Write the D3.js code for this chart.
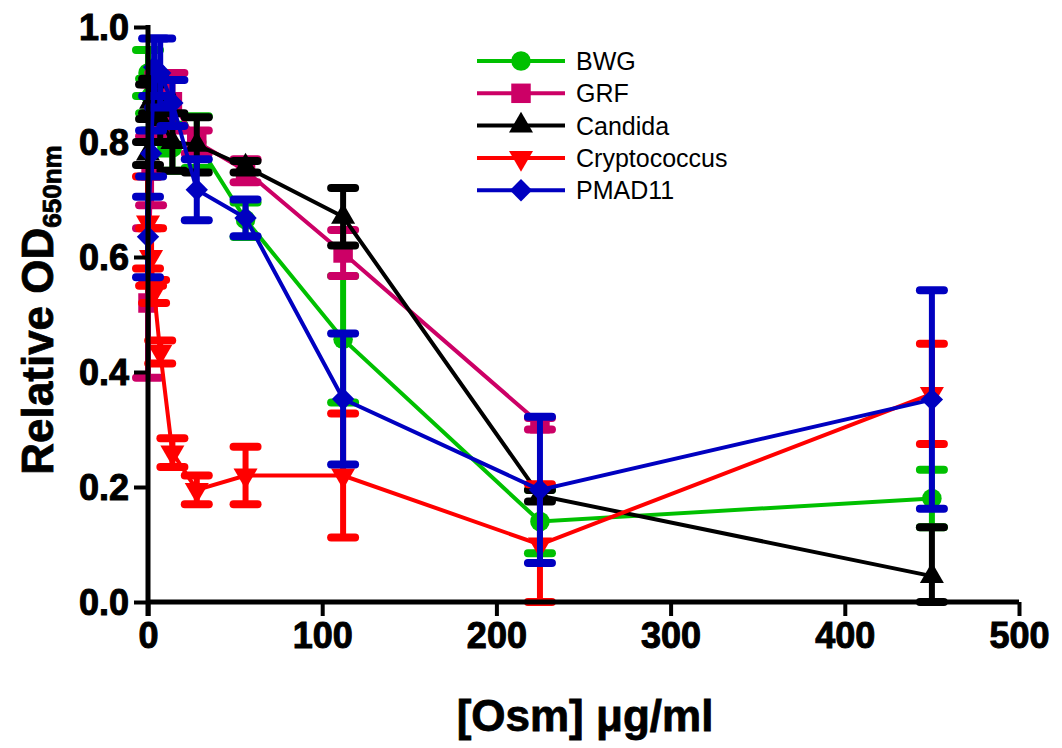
<!DOCTYPE html>
<html>
<head>
<meta charset="utf-8">
<script src="https://cdn.jsdelivr.net/npm/d3@7"></script>
<style>
body { margin: 0; background: #fff; }
text { font-family: "Liberation Sans", Arial, sans-serif; }
</style>
</head>
<body>
<svg width="1062" height="748"></svg>
<script>
// concentrations (ug/ml)
var conc = [0, 1.76, 3.5, 7, 14, 28, 56, 112, 225, 450];

var seriesNames = ["BWG", "GRF", "Candida", "Cryptococcus", "PMAD11"];
var seriesColors = ["#00c000", "#cc0066", "#000000", "#ff0000", "#0000c0"];

var bwgMean = [0.92, 0.88, 0.85, 0.81, 0.79, 0.80, 0.665, 0.457, 0.14, 0.18];
var bwgErr  = [0.04, 0.03, 0.03, 0.03, 0.04, 0.045, 0.03, 0.11, 0.055, 0.05];

var grfMean = [0.52, 0.75, 0.85, 0.88, 0.87, 0.80, 0.75, 0.607, 0.31, null];
var grfErr  = [0.13, 0.06, 0.05, 0.04, 0.05, 0.02, 0.02, 0.04, 0.01, null];

var canMean = [0.78, 0.87, 0.88, 0.84, 0.80, 0.795, 0.757, 0.67, 0.185, 0.045];
var canErr  = [0.02, 0.03, 0.03, 0.04, 0.05, 0.048, 0.01, 0.05, 0.01, 0.085];

var cryMean = [0.66, 0.60, 0.54, 0.435, 0.26, 0.195, 0.22, 0.22, 0.10, 0.362];
var cryErr  = [0.08, 0.05, 0.02, 0.02, 0.025, 0.025, 0.05, 0.108, 0.105, 0.087];

var pmaMean = [0.635, 0.78, 0.93, 0.92, 0.868, 0.717, 0.668, 0.353, 0.195, 0.352];
var pmaErr  = [0.07, 0.04, 0.05, 0.06, 0.04, 0.053, 0.032, 0.114, 0.127, 0.19];

var yTicks = [0, 0.2, 0.4, 0.6, 0.8, 1.0];
var xTicks = [0, 100, 200, 300, 400, 500];

var allMeans = [bwgMean, grfMean, canMean, cryMean, pmaMean];
var allErrs = [bwgErr, grfErr, canErr, cryErr, pmaErr];

var svg = d3.select("svg");

var xScale = d3.scaleLinear().domain([0, 500]).range([148, 1019]);
var yScale = d3.scaleLinear().domain([0, 1]).range([602, 27]);

// marker shapes
var markerPath = function(i) {
    if (i == 0) return d3.symbol().type(d3.symbolCircle).size(300)();
    if (i == 1) return d3.symbol().type(d3.symbolSquare).size(380)();
    if (i == 2 || i == 3) return d3.symbol().type(d3.symbolTriangle).size(250)();
    return d3.symbol().type(d3.symbolSquare).size(250)();
};
var markerRot = function(i) {
    if (i == 3) return " rotate(180)";
    if (i == 4) return " rotate(45)";
    return "";
};

var plot = svg.append("g").attr("id", "plot");

seriesNames.forEach(function(name, i) {
    var pts = conc.map(function(c, j) {
        return {x: c, y: allMeans[i][j], e: allErrs[i][j]};
    }).filter(function(d) { return d.y != null; });

    var g = plot.append("g").attr("class", "series");
    var col = seriesColors[i];

    // error bars
    pts.forEach(function(d) {
        var px = xScale(d.x);
        var lo = Math.max(0, d.y - d.e), hi = d.y + d.e;
        g.append("line")
            .attr("x1", px).attr("x2", px)
            .attr("y1", yScale(lo)).attr("y2", yScale(hi))
            .attr("stroke", col).attr("stroke-width", 6);
        [lo, hi].forEach(function(v) {
            g.append("line")
                .attr("x1", px - 12).attr("x2", px + 12)
                .attr("y1", yScale(v)).attr("y2", yScale(v))
                .attr("stroke", col).attr("stroke-width", 8)
                .attr("stroke-linecap", "round");
        });
    });

    var line = d3.line().x(function(d) { return xScale(d.x); }).y(function(d) { return yScale(d.y); });
    g.append("path")
        .attr("d", line(pts))
        .attr("fill", "none")
        .attr("stroke", col)
        .attr("stroke-width", 4);

    g.selectAll(".mk").data(pts).enter().append("path")
        .attr("d", markerPath(i))
        .attr("transform", function(d) { return "translate(" + xScale(d.x) + "," + yScale(d.y) + ")" + markerRot(i); })
        .attr("fill", col);
});

// axes
var xAxis = d3.axisBottom(xScale).tickValues(xTicks).tickFormat(d3.format("d")).tickSize(14).tickPadding(6);
var yAxis = d3.axisLeft(yScale).tickValues(yTicks).tickFormat(d3.format(".1f")).tickSize(14).tickPadding(5);

var ax = svg.append("g").attr("transform", "translate(0,602)").call(xAxis);
var ay = svg.append("g").attr("transform", "translate(148,0)").call(yAxis);

[ax, ay].forEach(function(a) {
    a.select(".domain").remove();
    a.selectAll(".tick line").attr("stroke", "#000").attr("stroke-width", 4);
    a.selectAll(".tick text")
        .attr("fill", "#000")
        .attr("stroke", "#000")
        .attr("stroke-width", 1)
        .style("font-size", "36px")
        .style("font-weight", "bold")
        .style("font-family", "'Liberation Sans', Arial, sans-serif");
});
ay.selectAll(".tick text").attr("dy", "0.36em");

svg.append("line")
    .attr("x1", 148).attr("x2", 1019)
    .attr("y1", 602).attr("y2", 602)
    .attr("stroke", "#000").attr("stroke-width", 5);
svg.append("line")
    .attr("x1", 148).attr("x2", 148)
    .attr("y1", 25).attr("y2", 616)
    .attr("stroke", "#000").attr("stroke-width", 5);

// axis titles
var yt = svg.append("text")
    .attr("transform", "translate(53,310) rotate(-90)")
    .attr("text-anchor", "middle")
    .attr("stroke", "#000").attr("stroke-width", 0.8)
    .style("font-size", "44px")
    .style("font-weight", "bold");
yt.append("tspan").text("Relative OD");
yt.append("tspan").attr("dy", 8).style("font-size", "26px").text("650nm");

svg.append("text")
    .attr("x", 585).attr("y", 731)
    .attr("text-anchor", "middle")
    .attr("stroke", "#000").attr("stroke-width", 0.8)
    .style("font-size", "44px")
    .style("font-weight", "bold")
    .text("[Osm] μg/ml");

// legend
var legend = svg.append("g").attr("transform", "translate(477,61)");
seriesNames.forEach(function(name, i) {
    var row = legend.append("g").attr("transform", "translate(0," + (i * 32.3) + ")");
    row.append("line")
        .attr("x1", 0).attr("x2", 88)
        .attr("stroke", seriesColors[i]).attr("stroke-width", 4);
    row.append("path")
        .attr("d", markerPath(i))
        .attr("transform", "translate(44,0)" + markerRot(i))
        .attr("fill", seriesColors[i]);
    row.append("text")
        .attr("x", 99).attr("y", 0).attr("dy", "0.36em")
        .style("font-size", "25px")
        .text(name);
});
</script>
</body>
</html>
